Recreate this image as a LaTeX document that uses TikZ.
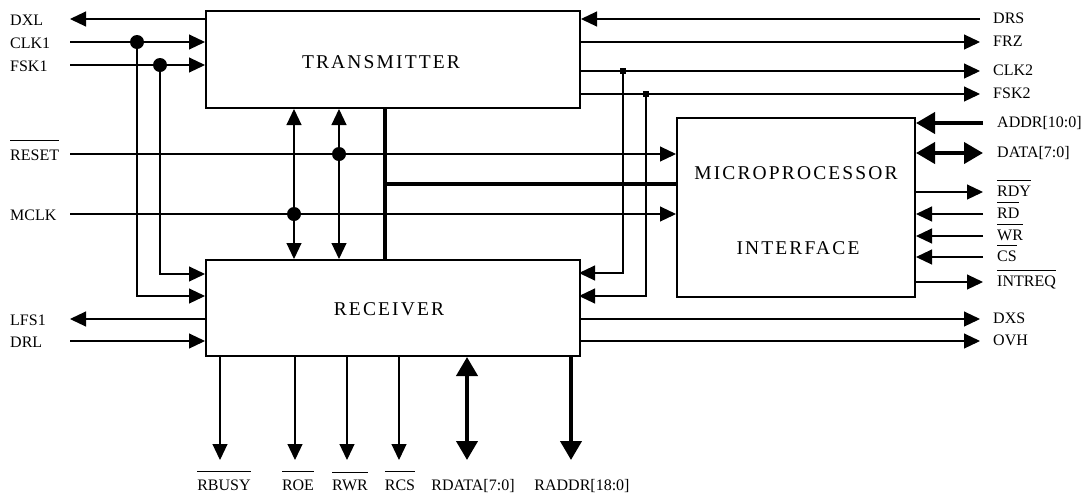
\documentclass[tikz,border=0pt]{standalone}
\usepackage{fontspec}
\setmainfont{Liberation Serif}
\newfontfamily\blockfont[LetterSpace=11]{Liberation Serif}
\usetikzlibrary{arrows.meta, positioning}
\tikzset{
    blockbox/.style={rectangle, draw, line width=2pt, inner sep=0pt, anchor=north west},
    blocktext/.style={font=\blockfont\fontsize{19.5}{21}\selectfont, inner sep=0pt},
    sigleft/.style={font=\fontsize{16}{18}\selectfont, inner sep=0pt, anchor=base west},
    sigbottom/.style={font=\fontsize{16}{18}\selectfont, inner sep=0pt, anchor=base},
    wire/.style={line width=1.1pt},
    sigin/.style={wire, -{Triangle[length=16pt, width=15pt]}},
    sigbi/.style={wire, {Triangle[length=16pt, width=15pt]}-{Triangle[length=16pt, width=15pt]}},
    bus/.style={line width=4pt},
    busin/.style={bus, -{Triangle[length=19pt, width=21pt]}},
    busbi/.style={bus, {Triangle[length=19pt, width=21pt]}-{Triangle[length=19pt, width=21pt]}},
    junction/.style={circle, fill, minimum size=14pt, inner sep=0pt},
    tap/.style={rectangle, fill, minimum size=6pt, inner sep=0pt},
}
\newcommand{\ovl}[2][5pt]{\leavevmode\vbox{\hrule height 1pt \kern#1\hbox{#2}}}

\begin{document}
\begin{tikzpicture}[x=1pt, y=-1pt]
    \useasboundingbox (0,0) rectangle (1086,499);

    % Blocks
    \node[blockbox, minimum width=374pt, minimum height=97pt] at (205,10) (tx) {};
    \node[blockbox, minimum width=374pt, minimum height=96pt] at (205,259) (rx) {};
    \node[blockbox, minimum width=238pt, minimum height=179pt] at (676,117) (mp) {};
    \node[blocktext] at (381,62) (txname) {TRANSMITTER};
    \node[blocktext] at (389,309) (rxname) {RECEIVER};
    \node[blocktext] at (796,173) (mpname1) {MICROPROCESSOR};
    \node[blocktext] at (798,248) (mpname2) {INTERFACE};

    % Left side signals
    \foreach \name/\y/\txt in {dxl/19/DXL, clk1/42/CLK1, fsk1/65/FSK1,
            reset/154/{\ovl[9pt]{RESET}}, mclk/214/MCLK, lfs1/319/LFS1, drl/341/DRL} {
        \coordinate (\name) at (70,\y);
        \node[sigleft] at (10,\y+6.5) (\name-lbl) {\txt};
    }
    \draw[sigin] (tx.west |- dxl) -- (dxl);
    \draw[sigin] (clk1) -- (tx.west |- clk1);
    \draw[sigin] (fsk1) -- (tx.west |- fsk1);
    \draw[sigin] (reset) -- (mp.west |- reset);
    \draw[sigin] (mclk) -- (mp.west |- mclk);
    \draw[sigin] (rx.west |- lfs1) -- (lfs1);
    \draw[sigin] (drl) -- (rx.west |- drl);

    % Clock taps into the receiver
    \node[junction] at (137,42) (clk1j) {};
    \node[junction] at (160,65) (fsk1j) {};
    \coordinate (rxclk1) at (205,296);
    \coordinate (rxfsk1) at (205,274);
    \draw[sigin] (clk1j.center) |- (rxclk1);
    \draw[sigin] (fsk1j.center) |- (rxfsk1);

    % Reset and master clock to both blocks
    \node[junction] at (339,154) (resetj) {};
    \node[junction] at (294,214) (mclkj) {};
    \draw[sigbi] (tx.south -| mclkj) -- (rx.north -| mclkj);
    \draw[sigbi] (tx.south -| resetj) -- (rx.north -| resetj);

    % Internal bus
    \coordinate (busj) at (385,184);
    \draw[bus] (tx.south -| busj) -- (rx.north -| busj);
    \draw[bus] (busj) -- (mp.west |- busj);

    % Right side signals of transmitter and receiver
    \foreach \name/\y/\txt in {drs/19/DRS, frz/42/FRZ, clk2/71/CLK2, fsk2/94/FSK2,
            dxs/319/DXS, ovh/341/OVH} {
        \coordinate (\name) at (980,\y);
        \node[sigleft] at (993,\y+4.5) (\name-lbl) {\txt};
    }
    \draw[sigin] (drs) -- (tx.east |- drs);
    \draw[sigin] (tx.east |- frz) -- (frz);
    \draw[sigin] (tx.east |- clk2) -- (clk2);
    \draw[sigin] (tx.east |- fsk2) -- (fsk2);
    \draw[sigin] (rx.east |- dxs) -- (dxs);
    \draw[sigin] (rx.east |- ovh) -- (ovh);

    % Loop back of clock and frame sync
    \node[tap] at (623,71) (clk2t) {};
    \node[tap] at (646,94) (fsk2t) {};
    \coordinate (rxclk2) at (579,273);
    \coordinate (rxfsk2) at (579,296);
    \draw[sigin] (clk2t.center) |- (rxclk2);
    \draw[sigin] (fsk2t.center) |- (rxfsk2);

    % Microprocessor port
    \foreach \name/\y/\txt in {addr/123/{ADDR[10:0]}, data/153/{DATA[7:0]},
            rdy/192/\ovl{RDY}, rd/214/\ovl{RD}, wr/236/\ovl{WR}, cs/257/\ovl{CS},
            intreq/282/\ovl{INTREQ}} {
        \coordinate (\name) at (983,\y);
        \node[sigleft] at (997,\y+4.5) (\name-lbl) {\txt};
    }
    \draw[busin] (addr) -- (mp.east |- addr);
    \draw[busbi] (mp.east |- data) -- (data);
    \draw[sigin] (mp.east |- rdy) -- (rdy);
    \foreach \s in {rd, wr, cs}
        \draw[sigin] (\s) -- (mp.east |- \s);
    \draw[sigin] (mp.east |- intreq) -- (intreq);

    % Receiver memory port
    \foreach \name/\x/\lx/\txt in {rbusy/220/224/{\ovl[7pt]{RBUSY}}, roe/295/298/{\ovl[7pt]{ROE}},
            rwr/347/350/{\ovl[7pt]{RWR}}, rcs/399/400/{\ovl[7pt]{RCS}},
            rdata/467/473/{RDATA[7:0]}, raddr/571/582/{RADDR[18:0]}} {
        \coordinate (\name) at (\x,460);
        \node[sigbottom] at (\lx,490) (\name-lbl) {\txt};
    }
    \foreach \s in {rbusy, roe, rwr, rcs}
        \draw[sigin] (rx.south -| \s) -- (\s);
    \draw[busbi] (rx.south -| rdata) -- (rdata);
    \draw[busin] (rx.south -| raddr) -- (raddr);

\end{tikzpicture}
\end{document}
